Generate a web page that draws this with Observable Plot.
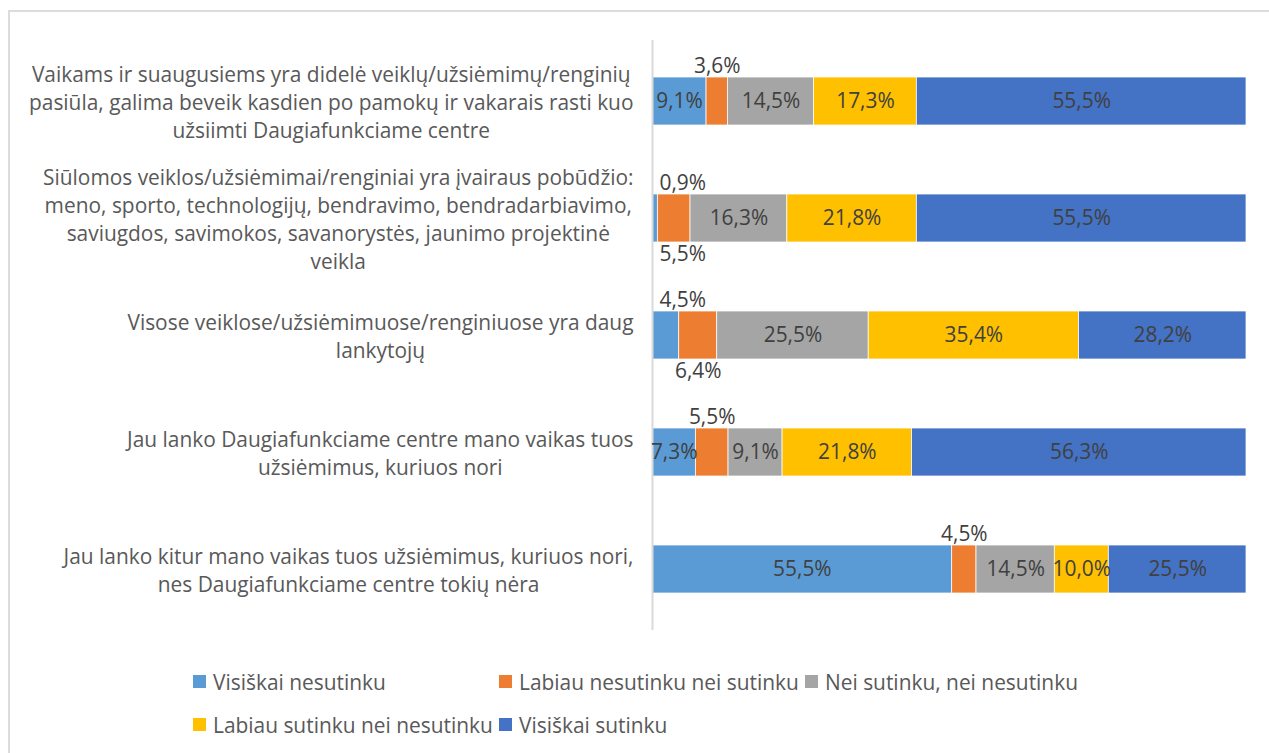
<!DOCTYPE html>
<html>
<head>
<meta charset="utf-8">
<script src="https://cdn.jsdelivr.net/npm/d3@7"></script>
<script src="https://cdn.jsdelivr.net/npm/@observablehq/plot@0.6"></script>
<style>
  html, body { margin: 0; padding: 0; background: #fff; }
  body { width: 1269px; height: 753px; overflow: hidden; position: relative; font-family: "Open Sans", sans-serif; }
  #frame { position: absolute; left: 8px; top: 10px; width: 1300px; height: 800px; border: 2px solid #dcdcdc; box-sizing: border-box; }
  #chart { position: absolute; left: 0; top: 0; }
  #legend { position: absolute; left: 193px; top: 660px; display: grid; grid-template-columns: 306px 306px 306px; grid-auto-rows: 43px; }
  .item { display: flex; align-items: center; color: #595959; white-space: nowrap; }
  .sw { width: 13px; height: 13px; margin-right: 7px; flex: none; }
</style>
</head>
<body>
<div id="frame"></div>
<div id="chart"></div>
<div id="legend"></div>
<script>
const categories = [
  "Vaikams ir suaugusiems yra didelė veiklų/užsiėmimų/renginių\npasiūla, galima beveik kasdien po pamokų ir vakarais rasti kuo\nužsiimti Daugiafunkciame centre",
  "Siūlomos veiklos/užsiėmimai/renginiai yra įvairaus pobūdžio:\nmeno, sporto, technologijų, bendravimo, bendradarbiavimo,\nsaviugdos, savimokos, savanorystės, jaunimo projektinė\nveikla",
  "Visose veiklose/užsiėmimuose/renginiuose yra daug\nlankytojų",
  "Jau lanko Daugiafunkciame centre mano vaikas tuos\nužsiėmimus, kuriuos nori",
  "Jau lanko kitur mano vaikas tuos užsiėmimus, kuriuos nori,\nnes Daugiafunkciame centre tokių nėra"
];
const series = [
  "Visiškai nesutinku",
  "Labiau nesutinku nei sutinku",
  "Nei sutinku, nei nesutinku",
  "Labiau sutinku nei nesutinku",
  "Visiškai sutinku"
];
const visiskaiNesutinku = [9.1, 0.9, 4.5, 7.3, 55.5];
const labiauNesutinku   = [3.6, 5.5, 6.4, 5.5, 4.5];
const neiSutinkuNei     = [14.5, 16.3, 25.5, 9.1, 14.5];
const labiauSutinku     = [17.3, 21.8, 35.4, 21.8, 10.0];
const visiskaiSutinku   = [55.5, 55.5, 28.2, 56.3, 25.5];
const colors = ["#5B9BD5", "#ED7D31", "#A5A5A5", "#FFC000", "#4472C4"];
// label placement per category, per series
const labelPlacement = [
  ["in", "above", "in", "in", "in"],
  ["above", "below", "in", "in", "in"],
  ["above", "below", "in", "in", "in"],
  ["in", "above", "in", "in", "in"],
  ["in", "above", "in", "in", "in"]
];

const valuesBySeries = [visiskaiNesutinku, labiauNesutinku, neiSutinkuNei, labiauSutinku, visiskaiSutinku];

const FONT = "Open Sans";
const W = 1269, H = 660;
const mL = 652, mR = 23, mT = 40, mB = 30;
const plotW = W - mL - mR;

const ctx = document.createElement("canvas").getContext("2d");
// fit font size so the widest category line is ~605px wide, as in the reference
ctx.font = `20px "${FONT}"`;
const widest20 = d3.max(categories.flatMap(c => c.split("\n")), s => ctx.measureText(s).width);
const FS = Math.round(20 * 605 / widest20 * 10) / 10;
ctx.font = `${FS}px "${FONT}"`;
const measure = s => ctx.measureText(s).width;
const fmt = v => v.toFixed(1).replace(".", ",") + "%";

const rows = [];
categories.forEach((c, i) => {
  series.forEach((s, j) => rows.push({cat: c, series: s, value: valuesBySeries[j][i]}));
});

const labels = [];
categories.forEach((c, i) => {
  const total = d3.sum(valuesBySeries, v => v[i]);
  let acc = 0;
  series.forEach((s, j) => {
    const v = valuesBySeries[j][i];
    const x1 = acc / total, x2 = (acc + v) / total;
    acc += v;
    const text = fmt(v);
    const pos = labelPlacement[i][j];
    let x = (x1 + x2) / 2;
    if (pos !== "in") {
      const minX = (7 + measure(text) / 2) / plotW;
      x = Math.max(x, minX);
    }
    labels.push({cat: c, x, text, pos});
  });
});

const catMarks = categories.map(c => {
  const maxW = d3.max(c.split("\n"), measure);
  return Plot.text([c], {
    x: () => 0, y: d => d, text: d => d,
    textAnchor: "middle", lineAnchor: "middle", lineHeight: 28 / FS,
    dx: -(19 + maxW / 2), fill: "#595959", fontSize: FS
  });
});

const chart = Plot.plot({
  width: W, height: H,
  marginLeft: mL, marginRight: mR, marginTop: mT, marginBottom: mB,
  style: {fontFamily: FONT, fontSize: FS + "px", background: "transparent", overflow: "visible"},
  x: {domain: [0, 1], axis: null},
  y: {domain: categories, axis: null, paddingInner: 0.593, paddingOuter: 0.2966},
  color: {domain: series, range: colors},
  marks: [
    Plot.barX(rows, Plot.stackX({x: "value", y: "cat", fill: "series", z: "series", offset: "normalize", stroke: "white", strokeWidth: 0.75})),
    Plot.ruleX([0], {stroke: "#d9d9d9", strokeWidth: 2}),
    Plot.text(labels.filter(d => d.pos === "in"), {x: "x", y: "cat", text: "text", fill: "#404040", fontSize: FS}),
    Plot.text(labels.filter(d => d.pos === "above"), {x: "x", y: "cat", text: "text", fill: "#404040", fontSize: FS, dy: -35}),
    Plot.text(labels.filter(d => d.pos === "below"), {x: "x", y: "cat", text: "text", fill: "#404040", fontSize: FS, dy: 36}),
    ...catMarks
  ]
});
document.getElementById("chart").appendChild(chart);

const legend = document.getElementById("legend");
series.forEach((s, j) => {
  const it = document.createElement("div");
  it.className = "item";
  it.style.fontSize = FS + "px";
  const sw = document.createElement("span");
  sw.className = "sw";
  sw.style.background = colors[j];
  const t = document.createElement("span");
  t.textContent = s;
  it.appendChild(sw); it.appendChild(t);
  legend.appendChild(it);
});
</script>
</body>
</html>
